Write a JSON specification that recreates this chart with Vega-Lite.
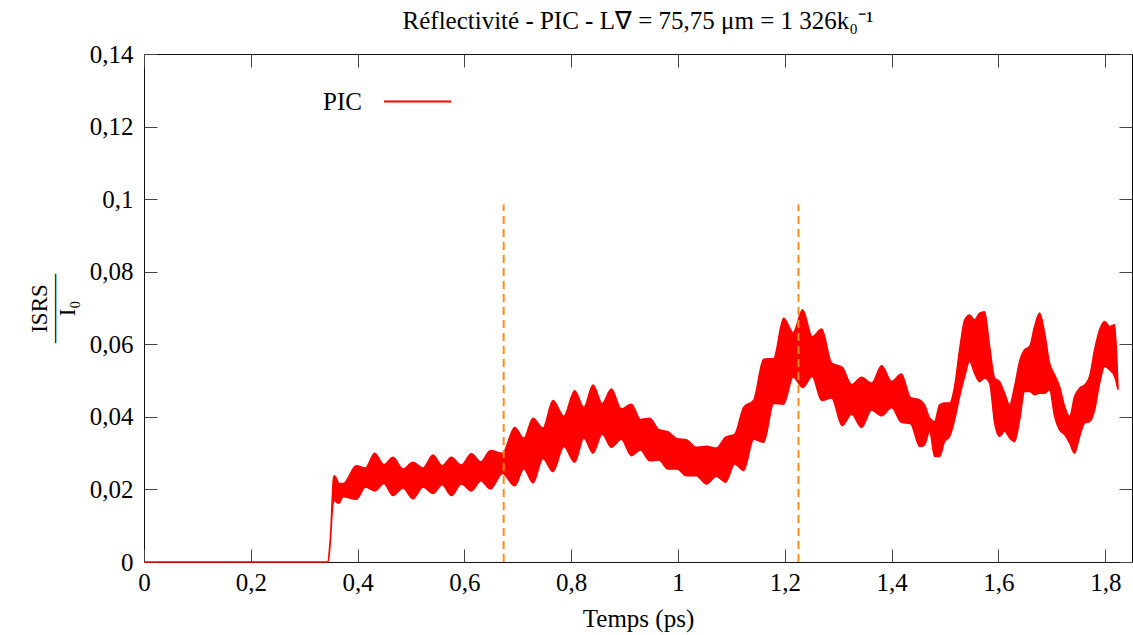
{
  "$schema": "https://vega.github.io/schema/vega-lite/v6.json",
  "width": 988,
  "height": 508,
  "autosize": "none",
  "padding": {"left": 144, "top": 54, "right": 1, "bottom": 73},
  "title": {"text": "Réflectivité - PIC - L∇ = 75,75 μm = 1 326k₀⁻¹", "anchor": "middle", "offset": 8, "fontSize": 25, "fontWeight": "normal", "font": "Liberation Serif", "color": "#000"},
  "datasets": {
    "pic": [
      {"t": 0, "lo": 0, "hi": 0},
      {"t": 0.3445, "lo": 0, "hi": 0},
      {"t": 0.3475, "lo": 0.003, "hi": 0.004},
      {"t": 0.35, "lo": 0.008, "hi": 0.009},
      {"t": 0.352, "lo": 0.013, "hi": 0.016},
      {"t": 0.354, "lo": 0.016, "hi": 0.022},
      {"t": 0.356, "lo": 0.017, "hi": 0.0238},
      {"t": 0.36, "lo": 0.0165, "hi": 0.0232},
      {"t": 0.365, "lo": 0.0162, "hi": 0.0216},
      {"t": 0.3727, "lo": 0.018, "hi": 0.0216},
      {"t": 0.3977, "lo": 0.0173, "hi": 0.0265},
      {"t": 0.4147, "lo": 0.0207, "hi": 0.0259},
      {"t": 0.4319, "lo": 0.0196, "hi": 0.03},
      {"t": 0.4492, "lo": 0.0216, "hi": 0.0268},
      {"t": 0.4662, "lo": 0.0183, "hi": 0.0289},
      {"t": 0.4849, "lo": 0.0204, "hi": 0.0256},
      {"t": 0.5036, "lo": 0.0174, "hi": 0.0275},
      {"t": 0.5224, "lo": 0.0207, "hi": 0.0259},
      {"t": 0.5411, "lo": 0.0189, "hi": 0.0295},
      {"t": 0.5583, "lo": 0.0213, "hi": 0.0265},
      {"t": 0.5755, "lo": 0.0183, "hi": 0.0289},
      {"t": 0.5943, "lo": 0.0215, "hi": 0.0267},
      {"t": 0.613, "lo": 0.0196, "hi": 0.0298},
      {"t": 0.6308, "lo": 0.0224, "hi": 0.0276},
      {"t": 0.6486, "lo": 0.0201, "hi": 0.0307},
      {"t": 0.6712, "lo": 0.0244, "hi": 0.03},
      {"t": 0.6941, "lo": 0.021, "hi": 0.0371},
      {"t": 0.7113, "lo": 0.0257, "hi": 0.0341},
      {"t": 0.7283, "lo": 0.0218, "hi": 0.0396},
      {"t": 0.747, "lo": 0.0285, "hi": 0.0369},
      {"t": 0.7658, "lo": 0.0249, "hi": 0.0445},
      {"t": 0.7862, "lo": 0.0318, "hi": 0.0402},
      {"t": 0.8064, "lo": 0.0275, "hi": 0.0472},
      {"t": 0.8236, "lo": 0.0342, "hi": 0.0426},
      {"t": 0.8407, "lo": 0.03, "hi": 0.0488},
      {"t": 0.8579, "lo": 0.0353, "hi": 0.0437},
      {"t": 0.8751, "lo": 0.0316, "hi": 0.0477},
      {"t": 0.8938, "lo": 0.0338, "hi": 0.0422},
      {"t": 0.9126, "lo": 0.0293, "hi": 0.0435},
      {"t": 0.9296, "lo": 0.0309, "hi": 0.0393},
      {"t": 0.9468, "lo": 0.0279, "hi": 0.0396},
      {"t": 0.9641, "lo": 0.0281, "hi": 0.0365},
      {"t": 0.9811, "lo": 0.0256, "hi": 0.0359},
      {"t": 0.9983, "lo": 0.0256, "hi": 0.034},
      {"t": 1.0155, "lo": 0.0238, "hi": 0.0337},
      {"t": 1.0343, "lo": 0.0238, "hi": 0.0316},
      {"t": 1.053, "lo": 0.0215, "hi": 0.0319},
      {"t": 1.0717, "lo": 0.0236, "hi": 0.0314},
      {"t": 1.0891, "lo": 0.022, "hi": 0.0344},
      {"t": 1.106, "lo": 0.027, "hi": 0.0352},
      {"t": 1.1228, "lo": 0.0252, "hi": 0.0426},
      {"t": 1.1416, "lo": 0.0338, "hi": 0.0446},
      {"t": 1.1603, "lo": 0.033, "hi": 0.0559},
      {"t": 1.179, "lo": 0.0437, "hi": 0.0561},
      {"t": 1.1977, "lo": 0.0435, "hi": 0.0672},
      {"t": 1.2155, "lo": 0.051, "hi": 0.0632},
      {"t": 1.2333, "lo": 0.0481, "hi": 0.0695},
      {"t": 1.2511, "lo": 0.0511, "hi": 0.0621},
      {"t": 1.2689, "lo": 0.0445, "hi": 0.0642},
      {"t": 1.2876, "lo": 0.0452, "hi": 0.0548},
      {"t": 1.3072, "lo": 0.0376, "hi": 0.0537},
      {"t": 1.325, "lo": 0.0407, "hi": 0.0489},
      {"t": 1.3436, "lo": 0.0371, "hi": 0.0509},
      {"t": 1.3625, "lo": 0.0419, "hi": 0.0493},
      {"t": 1.3812, "lo": 0.0403, "hi": 0.0541},
      {"t": 1.3999, "lo": 0.0426, "hi": 0.0498},
      {"t": 1.4181, "lo": 0.0385, "hi": 0.0518},
      {"t": 1.4355, "lo": 0.0381, "hi": 0.0453},
      {"t": 1.4524, "lo": 0.0318, "hi": 0.0447},
      {"t": 1.4617, "lo": 0.0323, "hi": 0.0433},
      {"t": 1.4711, "lo": 0.036, "hi": 0.0397},
      {"t": 1.4804, "lo": 0.0291, "hi": 0.0387},
      {"t": 1.4898, "lo": 0.0291, "hi": 0.0433},
      {"t": 1.4991, "lo": 0.0332, "hi": 0.0438},
      {"t": 1.5085, "lo": 0.0346, "hi": 0.0438},
      {"t": 1.5179, "lo": 0.0392, "hi": 0.0484},
      {"t": 1.5272, "lo": 0.0456, "hi": 0.0585},
      {"t": 1.5366, "lo": 0.0511, "hi": 0.0667},
      {"t": 1.5459, "lo": 0.0553, "hi": 0.0681},
      {"t": 1.5553, "lo": 0.052, "hi": 0.0667},
      {"t": 1.5647, "lo": 0.0497, "hi": 0.0686},
      {"t": 1.574, "lo": 0.0507, "hi": 0.069},
      {"t": 1.5834, "lo": 0.0493, "hi": 0.0594},
      {"t": 1.5928, "lo": 0.0383, "hi": 0.0507},
      {"t": 1.6021, "lo": 0.0346, "hi": 0.0497},
      {"t": 1.6115, "lo": 0.036, "hi": 0.0465},
      {"t": 1.6208, "lo": 0.0342, "hi": 0.0433},
      {"t": 1.6302, "lo": 0.0332, "hi": 0.0484},
      {"t": 1.6396, "lo": 0.0392, "hi": 0.0553},
      {"t": 1.6489, "lo": 0.047, "hi": 0.0585},
      {"t": 1.6583, "lo": 0.047, "hi": 0.0594},
      {"t": 1.6676, "lo": 0.0461, "hi": 0.0649},
      {"t": 1.677, "lo": 0.0465, "hi": 0.0686},
      {"t": 1.6864, "lo": 0.0465, "hi": 0.0631},
      {"t": 1.6957, "lo": 0.0475, "hi": 0.0548},
      {"t": 1.7051, "lo": 0.0401, "hi": 0.0516},
      {"t": 1.7144, "lo": 0.0364, "hi": 0.0484},
      {"t": 1.7238, "lo": 0.0351, "hi": 0.0429},
      {"t": 1.7332, "lo": 0.0328, "hi": 0.0401},
      {"t": 1.7425, "lo": 0.03, "hi": 0.0456},
      {"t": 1.7519, "lo": 0.0346, "hi": 0.0479},
      {"t": 1.7613, "lo": 0.0383, "hi": 0.0488},
      {"t": 1.7706, "lo": 0.0387, "hi": 0.0511},
      {"t": 1.78, "lo": 0.0419, "hi": 0.0585},
      {"t": 1.7894, "lo": 0.0493, "hi": 0.064},
      {"t": 1.7987, "lo": 0.0539, "hi": 0.0663},
      {"t": 1.8081, "lo": 0.053, "hi": 0.0649},
      {"t": 1.8175, "lo": 0.0511, "hi": 0.0654},
      {"t": 1.8237, "lo": 0.0475, "hi": 0.0484}
    ],
    "marks": [{"t": 0.6735}, {"t": 1.2255}]
  },
  "layer": [
    {
      "data": {"name": "pic"},
      "transform": [{"calculate": "'PIC'", "as": "serie"}],
      "mark": {"type": "area", "interpolate": "monotone", "fill": "#ff0000", "strokeWidth": 1.5},
      "encoding": {
        "x": {"field": "t", "type": "quantitative", "scale": {"domain": [0, 1.85], "nice": false, "zero": false},
          "axis": {"orient": "bottom", "title": "Temps (ps)", "values": [0, 0.2, 0.4, 0.6, 0.8, 1, 1.2, 1.4, 1.6, 1.8], "labelExpr": "replace(format(datum.value, '~g'), '.', ',')", "labelPadding": 21, "titlePadding": 11}},
        "y": {"field": "lo", "type": "quantitative", "scale": {"domain": [0, 0.14], "nice": false, "zero": false},
          "axis": {"orient": "left", "title": ["ISRS", "―――", "I₀"], "titleFontSize": 23, "titleLineHeight": 14, "values": [0, 0.02, 0.04, 0.06, 0.08, 0.1, 0.12, 0.14], "labelExpr": "replace(format(datum.value, '~g'), '.', ',')", "labelPadding": 24, "titlePadding": 10}},
        "y2": {"field": "hi"},
        "stroke": {"field": "serie", "type": "nominal", "scale": {"range": ["#ff0000"]},
          "legend": {"orient": "none", "legendX": 239, "legendY": 13, "symbolType": "stroke", "symbolSize": 4489, "symbolStrokeWidth": 2, "labelFontSize": 25, "labelFont": "Liberation Serif", "labelColor": "#000", "labelAlign": "right", "labelOffset": -90, "title": null, "padding": 0}}
      }
    },
    {
      "data": {"name": "marks"},
      "mark": {"type": "rule", "color": "#ff8c1a", "strokeWidth": 2, "strokeDash": [8, 5]},
      "encoding": {
        "x": {"field": "t", "type": "quantitative", "axis": {"orient": "top", "title": null, "labels": false, "values": [0, 0.2, 0.4, 0.6, 0.8, 1, 1.2, 1.4, 1.6, 1.8]}},
        "y": {"datum": 0, "type": "quantitative", "axis": {"orient": "right", "title": null, "labels": false, "values": [0, 0.02, 0.04, 0.06, 0.08, 0.1, 0.12, 0.14]}},
        "y2": {"datum": 0.0985}
      }
    }
  ],
  "resolve": {"axis": {"x": "independent", "y": "independent"}},
  "config": {
    "view": {"stroke": "#111", "strokeWidth": 1},
    "font": "Liberation Serif",
    "axis": {"grid": false, "domain": false, "tickSize": -13, "tickColor": "#444", "tickWidth": 1, "labelFontSize": 25, "labelFont": "Liberation Serif", "labelColor": "#000", "labelFlush": false, "labelOverlap": false, "titleFontSize": 25, "titleFont": "Liberation Serif", "titleFontWeight": "normal", "titleColor": "#000"}
  }
}
